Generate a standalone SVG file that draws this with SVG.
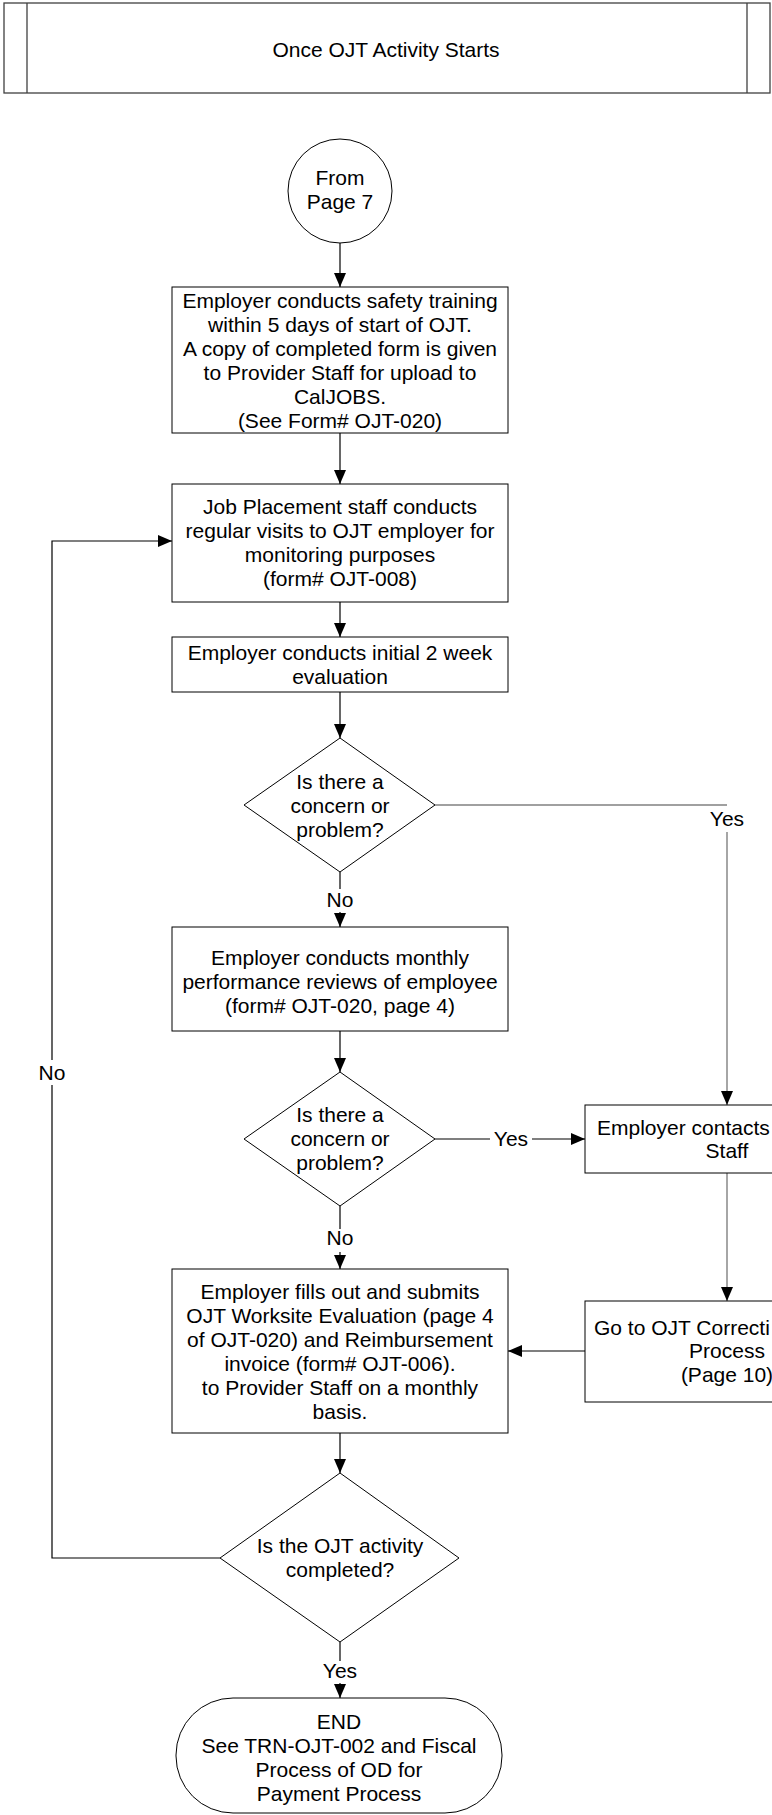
<svg xmlns="http://www.w3.org/2000/svg" width="772" height="1815" viewBox="0 0 772 1815">
<style>
.s{fill:#fff;stroke:#000;stroke-width:1}
.c{fill:none;stroke:#000;stroke-width:1.2}
.g{fill:none;stroke:#808080;stroke-width:1.4}
text{font-family:"Liberation Sans",Arial,sans-serif;font-size:21px;fill:#000;text-anchor:middle}
.st{text-anchor:start}
</style>
<defs>
<marker id="a" markerUnits="userSpaceOnUse" markerWidth="14" markerHeight="12" refX="14" refY="6" orient="auto">
<path d="M0,0 L14,6 L0,12 z" fill="#000"/>
</marker>
</defs>
<rect width="772" height="1815" fill="#fff"/>
<g id="header">
<rect x="4" y="3" width="766" height="90" fill="#fff" stroke="#404040" stroke-width="1.3"/>
<line x1="27" y1="3" x2="27" y2="93" stroke="#404040" stroke-width="1.3"/>
<line x1="747" y1="3" x2="747" y2="93" stroke="#404040" stroke-width="1.3"/>
<text x="386" y="57">Once OJT Activity Starts</text>
</g>
<g id="connectors">
<path class="c" d="M340,243 V287" marker-end="url(#a)"/>
<path class="c" d="M340,433 V484" marker-end="url(#a)"/>
<path class="c" d="M340,602 V637" marker-end="url(#a)"/>
<path class="c" d="M340,692 V738" marker-end="url(#a)"/>
<path class="c" d="M340,872 V889"/>
<path class="c" d="M340,912 V927" marker-end="url(#a)"/>
<path class="g" d="M435,805 H727"/>
<path class="g" d="M727,832 V1105" marker-end="url(#a)"/>
<path class="c" d="M340,1031 V1072" marker-end="url(#a)"/>
<path class="c" d="M435,1139 H490"/>
<path class="c" d="M532,1139 H585" marker-end="url(#a)"/>
<path class="c" d="M340,1206 V1229"/>
<path class="c" d="M340,1252 V1269" marker-end="url(#a)"/>
<path class="g" d="M727,1173 V1301" marker-end="url(#a)"/>
<path class="c" d="M585,1351 H508" marker-end="url(#a)"/>
<path class="c" d="M340,1433 V1473" marker-end="url(#a)"/>
<path class="c" d="M220,1558 H52 V1085"/>
<path class="c" d="M52,1060 V541 H172" marker-end="url(#a)"/>
<path class="c" d="M340,1642 V1661"/>
<path class="c" d="M340,1683 V1698" marker-end="url(#a)"/>
<text x="727" y="826">Yes</text>
<text x="340" y="907">No</text>
<text x="511" y="1146">Yes</text>
<text x="340" y="1245">No</text>
<text x="52" y="1080">No</text>
<text x="340" y="1678">Yes</text>
</g>
<g id="start">
<circle class="s" cx="340" cy="191" r="52"/>
<text x="340" y="185">From</text>
<text x="340" y="209">Page 7</text>
</g>
<g id="safety">
<rect class="s" x="172" y="287" width="336" height="146"/>
<text x="340" y="308">Employer conducts safety training</text>
<text x="340" y="332">within 5 days of start of OJT.</text>
<text x="340" y="356">A copy of completed form is given</text>
<text x="340" y="380">to Provider Staff for upload to</text>
<text x="340" y="404">CalJOBS.</text>
<text x="340" y="428">(See Form# OJT-020)</text>
</g>
<g id="visits">
<rect class="s" x="172" y="484" width="336" height="118"/>
<text x="340" y="514">Job Placement staff conducts</text>
<text x="340" y="538">regular visits to OJT employer for</text>
<text x="340" y="562">monitoring purposes</text>
<text x="340" y="586">(form# OJT-008)</text>
</g>
<g id="initial">
<rect class="s" x="172" y="637" width="336" height="55"/>
<text x="340" y="660">Employer conducts initial 2 week</text>
<text x="340" y="684">evaluation</text>
</g>
<g id="decision1">
<polygon class="s" points="340,738 435,805 340,872 244,805"/>
<text x="340" y="789">Is there a</text>
<text x="340" y="813">concern or</text>
<text x="340" y="837">problem?</text>
</g>
<g id="monthly">
<rect class="s" x="172" y="927" width="336" height="104"/>
<text x="340" y="965">Employer conducts monthly</text>
<text x="340" y="989">performance reviews of employee</text>
<text x="340" y="1013">(form# OJT-020, page 4)</text>
</g>
<g id="decision2">
<polygon class="s" points="340,1072 435,1139 340,1206 244,1139"/>
<text x="340" y="1122">Is there a</text>
<text x="340" y="1146">concern or</text>
<text x="340" y="1170">problem?</text>
</g>
<g id="contacts">
<rect class="s" x="585" y="1105" width="284" height="68"/>
<text class="st" x="597" y="1135">Employer contacts</text>
<text x="727" y="1158">Staff</text>
</g>
<g id="corrective">
<rect class="s" x="585" y="1301" width="284" height="101"/>
<text class="st" x="594" y="1335">Go to OJT Correcti</text>
<text x="727" y="1358">Process</text>
<text x="727" y="1382">(Page 10)</text>
</g>
<g id="submit">
<rect class="s" x="172" y="1269" width="336" height="164"/>
<text x="340" y="1299">Employer fills out and submits</text>
<text x="340" y="1323">OJT Worksite Evaluation (page 4</text>
<text x="340" y="1347">of OJT-020) and Reimbursement</text>
<text x="340" y="1371">invoice (form# OJT-006).</text>
<text x="340" y="1395">to Provider Staff on a monthly</text>
<text x="340" y="1419">basis.</text>
</g>
<g id="decision3">
<polygon class="s" points="340,1473 459,1558 340,1642 220,1558"/>
<text x="340" y="1553">Is the OJT activity</text>
<text x="340" y="1577">completed?</text>
</g>
<g id="end">
<rect class="s" x="176" y="1698" width="326" height="115" rx="57" ry="57"/>
<text x="339" y="1729">END</text>
<text x="339" y="1753">See TRN-OJT-002 and Fiscal</text>
<text x="339" y="1777">Process of OD for</text>
<text x="339" y="1801">Payment Process</text>
</g>
</svg>
